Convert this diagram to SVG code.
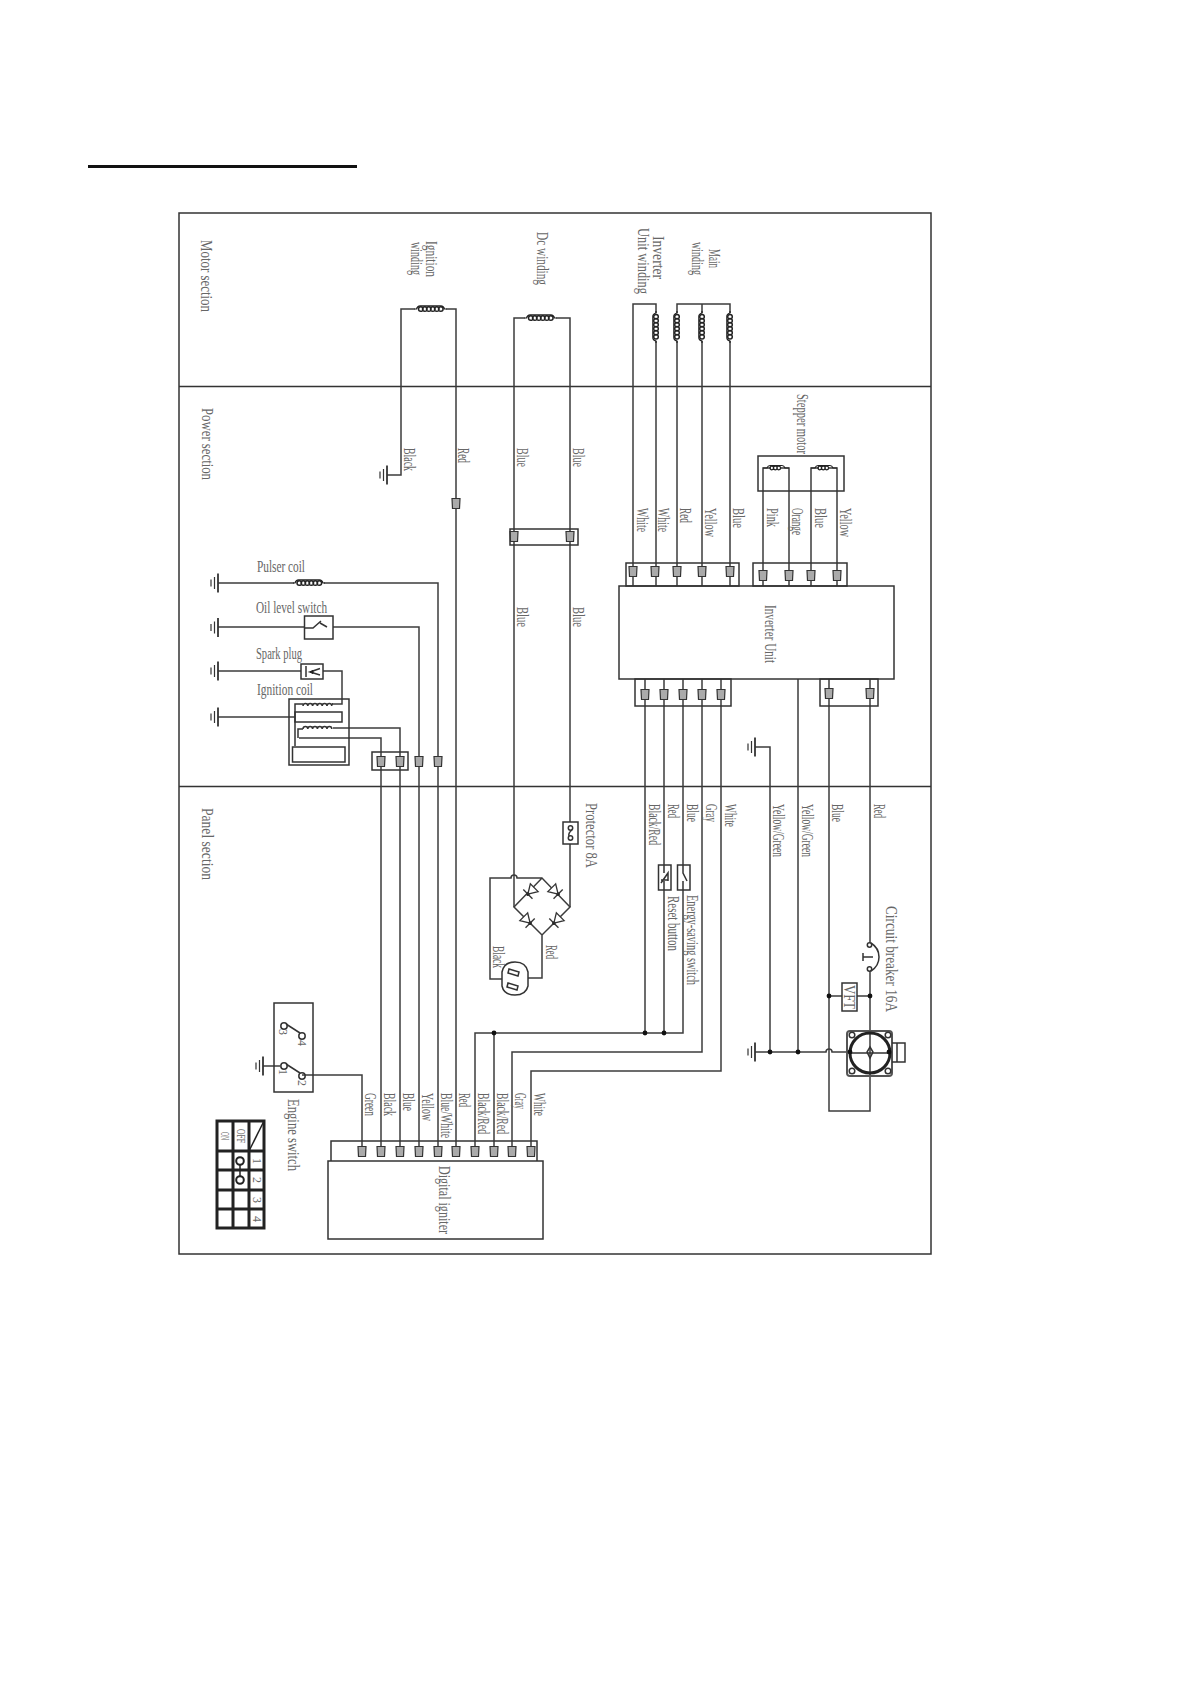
<svg xmlns="http://www.w3.org/2000/svg" width="1191" height="1684" viewBox="0 0 1191 1684">
<style>
.t{font-family:"Liberation Serif","Times New Roman",serif;font-size:16px;fill:#666}
.s{font-family:"Liberation Serif","Times New Roman",serif;font-size:12px;fill:#666}
.w{fill:none;stroke:#3c3c3c;stroke-width:1.5}
.f{fill:none;stroke:#333;stroke-width:1.5}
.b{fill:#fff;stroke:#333;stroke-width:1.5}
.k{fill:none;stroke:#222;stroke-width:3}
.d{fill:#111;stroke:none}
</style>
<defs>
<g id="pin"><path d="M-4 -5.500H4L3.500 4.500H-3.500Z" fill="#aaa" stroke="#333" stroke-width="1.200"/></g>
<g id="gnd" fill="none" stroke="#333"><path d="M0 -9.500V9.500" stroke-width="1.800"/><path d="M-3.500 -6V6M-7 -3.500V3.500" stroke-width="1.200"/></g>
<g id="coil" fill="none" stroke="#222"><path d="M-16 0H-14Q-13 -3.500 -10 -3.200H10Q13 -3.500 14 0H16" stroke-width="1.200"/><path d="M-12 0a2.300 2.300 0 1 0 4.600 0a2.300 2.300 0 1 0 -4.600 0M-8 0a2.300 2.300 0 1 0 4.600 0a2.300 2.300 0 1 0 -4.600 0M-4 0a2.300 2.300 0 1 0 4.600 0a2.300 2.300 0 1 0 -4.600 0M0 0a2.300 2.300 0 1 0 4.600 0a2.300 2.300 0 1 0 -4.600 0M4 0a2.300 2.300 0 1 0 4.600 0a2.300 2.300 0 1 0 -4.600 0M8 0a2.300 2.300 0 1 0 4.600 0a2.300 2.300 0 1 0 -4.600 0" stroke-width="1.500"/></g>
<g id="coilS" fill="none" stroke="#222"><path d="M-13 0H-9Q-8 -2.500 -6 -2.500H6Q8 -2.500 9 0H13" stroke-width="1.200"/><path d="M-6 0a1.800 1.800 0 1 0 3.600 0a1.800 1.800 0 1 0 -3.600 0M-2.500 0a1.800 1.800 0 1 0 3.600 0a1.800 1.800 0 1 0 -3.600 0M1 0a1.800 1.800 0 1 0 3.600 0a1.800 1.800 0 1 0 -3.600 0" stroke-width="1.300"/></g>
<g id="diode" fill="#fff" stroke="#333" stroke-width="1.300"><path d="M-6 -5.500V5.500L3 0Z"/><path d="M3 -6.500V6.500"/><circle cx="3" cy="0" r="1.200" fill="#111"/></g>
</defs>
<rect width="1191" height="1684" fill="#fff"/>
<path d="M88 166.500H357" stroke="#111" stroke-width="3" fill="none"/>

<g id="frame">
<rect class="f" x="179" y="213" width="752" height="1041"/>
<path class="f" d="M179 386.500H931M179 786.500H931"/>
<text class="t" transform="translate(201 240) rotate(90)" textLength="72" lengthAdjust="spacingAndGlyphs">Motor section</text>
<text class="t" transform="translate(202 408) rotate(90)" textLength="72" lengthAdjust="spacingAndGlyphs">Power section</text>
<text class="t" transform="translate(202 808) rotate(90)" textLength="72" lengthAdjust="spacingAndGlyphs">Panel section</text>
</g>

<g id="connectors">
<path class="w" d="M387 475H401V309H415M446 309H456V1152"/>
<path class="w" d="M514 907V318H525M556 318H570V907"/>
<path class="w" d="M633 586V304H656V313M656 341V586"/>
<path class="w" d="M677 313V304H730V313M702 304V313M677 341V586M702 341V586M730 341V586"/>
<path class="w" d="M771 468H763V586M781 468H789V586M819 468H811V586M829 468H837V586"/>
<path class="w" d="M645 679V1033M664 679V1033M683 679V1033H475V1152M494 1033V1152M702 679V1052H512V1152M721 679V1071H531V1152"/>
<path class="w" d="M302 1075H362V1152"/>
<path class="w" d="M755 747H770V1052M798 679V1052M755 1052H826a3 3 0 0 1 6 0H850"/>
<path class="w" d="M829 679V1111H870V969M870 679V945M829 996H870"/>
<path class="w" d="M299 738H381V1152M333 728H400V1152M333 627H419V1152M324 583H438V1152"/>
<path class="w" d="M218 583H294M218 627H304M218 671H301M323 671H342V704H332M218 717H295"/>
<path class="w" d="M514 907L542 878L570 907L542 935ZM542 878H517a3 3 0 0 0 -6 0H490V979H502M542 935V978H528"/>
<path class="w" d="M263 1066H280"/>
<circle class="d" cx="645" cy="1033" r="2.400"/><circle class="d" cx="664" cy="1033" r="2.400"/><circle class="d" cx="494" cy="1033" r="2.400"/>
<circle class="d" cx="770" cy="1052" r="2.400"/><circle class="d" cx="798" cy="1052" r="2.400"/><circle class="d" cx="829" cy="996" r="2.400"/><circle class="d" cx="870" cy="996" r="2.400"/>
<use href="#pin" x="456" y="504"/>
<use href="#pin" x="381" y="762"/><use href="#pin" x="400" y="762"/><use href="#pin" x="419" y="762"/><use href="#pin" x="438" y="762"/>
<use href="#pin" x="514" y="537"/><use href="#pin" x="570" y="537"/>
<use href="#pin" x="633" y="572"/><use href="#pin" x="655" y="572"/><use href="#pin" x="677" y="572"/><use href="#pin" x="702" y="572"/><use href="#pin" x="730" y="572"/>
<use href="#pin" x="763" y="576"/><use href="#pin" x="789" y="576"/><use href="#pin" x="811" y="576"/><use href="#pin" x="837" y="576"/>
<use href="#pin" x="645" y="695"/><use href="#pin" x="664" y="695"/><use href="#pin" x="683" y="695"/><use href="#pin" x="702" y="695"/><use href="#pin" x="721" y="695"/>
<use href="#pin" x="829" y="694"/><use href="#pin" x="870" y="694"/>
<use href="#pin" x="362" y="1152"/><use href="#pin" x="381" y="1152"/><use href="#pin" x="400" y="1152"/><use href="#pin" x="419" y="1152"/><use href="#pin" x="438" y="1152"/><use href="#pin" x="456" y="1152"/><use href="#pin" x="475" y="1152"/><use href="#pin" x="494" y="1152"/><use href="#pin" x="512" y="1152"/><use href="#pin" x="531" y="1152"/>
<rect class="f" x="372" y="752" width="36" height="18"/>
<rect class="f" x="510" y="529" width="68" height="16"/>
<rect class="f" x="626" y="563" width="113" height="23"/>
<rect class="f" x="753" y="563" width="94" height="23"/>
<rect class="f" x="635" y="679" width="96" height="27"/>
<rect class="f" x="820" y="679" width="58" height="27"/>
<path class="f" d="M331 1161V1141H537V1161"/>
</g>

<g id="wire-labels">
<text class="t" transform="translate(404 448) rotate(90)" textLength="23" lengthAdjust="spacingAndGlyphs">Black</text>
<text class="t" transform="translate(458 448) rotate(90)" textLength="15" lengthAdjust="spacingAndGlyphs">Red</text>
<text class="t" transform="translate(517 448) rotate(90)" textLength="19" lengthAdjust="spacingAndGlyphs">Blue</text>
<text class="t" transform="translate(573 448) rotate(90)" textLength="19" lengthAdjust="spacingAndGlyphs">Blue</text>
<text class="t" transform="translate(517 607) rotate(90)" textLength="20" lengthAdjust="spacingAndGlyphs">Blue</text>
<text class="t" transform="translate(573 607) rotate(90)" textLength="20" lengthAdjust="spacingAndGlyphs">Blue</text>
<text class="t" transform="translate(637 508) rotate(90)" textLength="24" lengthAdjust="spacingAndGlyphs">White</text>
<text class="t" transform="translate(658 508) rotate(90)" textLength="24" lengthAdjust="spacingAndGlyphs">White</text>
<text class="t" transform="translate(680 508) rotate(90)" textLength="15" lengthAdjust="spacingAndGlyphs">Red</text>
<text class="t" transform="translate(705 508) rotate(90)" textLength="29" lengthAdjust="spacingAndGlyphs">Yellow</text>
<text class="t" transform="translate(733 508) rotate(90)" textLength="20" lengthAdjust="spacingAndGlyphs">Blue</text>
<text class="t" transform="translate(767 508) rotate(90)" textLength="19" lengthAdjust="spacingAndGlyphs">Pink</text>
<text class="t" transform="translate(792 508) rotate(90)" textLength="27" lengthAdjust="spacingAndGlyphs">Orange</text>
<text class="t" transform="translate(815 508) rotate(90)" textLength="20" lengthAdjust="spacingAndGlyphs">Blue</text>
<text class="t" transform="translate(840 508) rotate(90)" textLength="29" lengthAdjust="spacingAndGlyphs">Yellow</text>
<text class="t" transform="translate(649 804) rotate(90)" textLength="41" lengthAdjust="spacingAndGlyphs">Black/Red</text>
<text class="t" transform="translate(668 804) rotate(90)" textLength="14" lengthAdjust="spacingAndGlyphs">Red</text>
<text class="t" transform="translate(687 804) rotate(90)" textLength="18" lengthAdjust="spacingAndGlyphs">Blue</text>
<text class="t" transform="translate(706 804) rotate(90)" textLength="18" lengthAdjust="spacingAndGlyphs">Gray</text>
<text class="t" transform="translate(725 804) rotate(90)" textLength="23" lengthAdjust="spacingAndGlyphs">White</text>
<text class="t" transform="translate(773 804) rotate(90)" textLength="53" lengthAdjust="spacingAndGlyphs">Yellow/Green</text>
<text class="t" transform="translate(802 804) rotate(90)" textLength="53" lengthAdjust="spacingAndGlyphs">Yellow/Green</text>
<text class="t" transform="translate(832 804) rotate(90)" textLength="18" lengthAdjust="spacingAndGlyphs">Blue</text>
<text class="t" transform="translate(874 804) rotate(90)" textLength="14" lengthAdjust="spacingAndGlyphs">Red</text>
<text class="t" transform="translate(493 946) rotate(90)" textLength="22" lengthAdjust="spacingAndGlyphs">Black</text>
<text class="t" transform="translate(546 945) rotate(90)" textLength="14" lengthAdjust="spacingAndGlyphs">Red</text>
<text class="t" transform="translate(365 1093) rotate(90)" textLength="23" lengthAdjust="spacingAndGlyphs">Green</text>
<text class="t" transform="translate(384 1093) rotate(90)" textLength="23" lengthAdjust="spacingAndGlyphs">Black</text>
<text class="t" transform="translate(403 1093) rotate(90)" textLength="18" lengthAdjust="spacingAndGlyphs">Blue</text>
<text class="t" transform="translate(422 1093) rotate(90)" textLength="28" lengthAdjust="spacingAndGlyphs">Yellow</text>
<text class="t" transform="translate(441 1093) rotate(90)" textLength="45" lengthAdjust="spacingAndGlyphs">Blue/White</text>
<text class="t" transform="translate(459 1093) rotate(90)" textLength="14" lengthAdjust="spacingAndGlyphs">Red</text>
<text class="t" transform="translate(478 1093) rotate(90)" textLength="41" lengthAdjust="spacingAndGlyphs">Black/Red</text>
<text class="t" transform="translate(497 1093) rotate(90)" textLength="41" lengthAdjust="spacingAndGlyphs">Black/Red</text>
<text class="t" transform="translate(515 1093) rotate(90)" textLength="16" lengthAdjust="spacingAndGlyphs">Gray</text>
<text class="t" transform="translate(534 1093) rotate(90)" textLength="23" lengthAdjust="spacingAndGlyphs">White</text>
</g>

<g id="ignition-winding">
<use href="#coil" x="430.500" y="309"/>
<text class="t" transform="translate(426 241) rotate(90)" textLength="36" lengthAdjust="spacingAndGlyphs">Ignition</text>
<text class="t" transform="translate(411 242) rotate(90)" textLength="33" lengthAdjust="spacingAndGlyphs">winding</text>
<use href="#gnd" x="387" y="475"/>
</g>
<g id="dc-winding">
<use href="#coil" x="540.500" y="318"/>
<text class="t" transform="translate(537 232) rotate(90)" textLength="53" lengthAdjust="spacingAndGlyphs">Dc winding</text>
</g>
<g id="inverter-winding">
<use href="#coil" transform="translate(656 327) rotate(-90)"/>
<text class="t" transform="translate(653 236) rotate(90)" textLength="43" lengthAdjust="spacingAndGlyphs">Inverter</text>
<text class="t" transform="translate(638 228) rotate(90)" textLength="66" lengthAdjust="spacingAndGlyphs">Unit winding</text>
</g>
<g id="main-winding">
<use href="#coil" transform="translate(677 327) rotate(-90)"/>
<use href="#coil" transform="translate(702 327) rotate(-90)"/>
<use href="#coil" transform="translate(730 327) rotate(-90)"/>
<text class="t" transform="translate(709 249) rotate(90)" textLength="19" lengthAdjust="spacingAndGlyphs">Main</text>
<text class="t" transform="translate(692 242) rotate(90)" textLength="33" lengthAdjust="spacingAndGlyphs">winding</text>
</g>
<g id="stepper-motor">
<rect class="f" x="758" y="456" width="86" height="35"/>
<use href="#coilS" x="776" y="468"/>
<use href="#coilS" x="824" y="468"/>
<text class="t" transform="translate(797 394) rotate(90)" textLength="60" lengthAdjust="spacingAndGlyphs">Stepper motor</text>
</g>
<g id="inverter-unit">
<rect class="f" x="619" y="586" width="275" height="93"/>
<text class="t" transform="translate(765 605) rotate(90)" textLength="58" lengthAdjust="spacingAndGlyphs">Inverter Unit</text>
</g>
<g id="pulser-coil">
<use href="#gnd" x="218" y="583"/>
<use href="#coil" x="309" y="583"/>
<text class="t" x="257" y="572" textLength="48" lengthAdjust="spacingAndGlyphs">Pulser coil</text>
</g>
<g id="oil-level-switch">
<use href="#gnd" x="218" y="627.500"/>
<rect class="f" x="304.500" y="616" width="28.500" height="23"/>
<path class="f" d="M304 628H313L321 621M320 623L327 627"/>
<text class="t" x="256" y="613" textLength="71" lengthAdjust="spacingAndGlyphs">Oil level switch</text>
</g>
<g id="spark-plug">
<use href="#gnd" x="218" y="671"/>
<rect class="f" x="301" y="664" width="22" height="15"/>
<path class="f" d="M306 666V677M320 668.500L310 672L320 675"/>
<path d="M313 670.500L310 672L313 673.500Z" fill="#222" stroke="#222"/>
<text class="t" x="256" y="659" textLength="46" lengthAdjust="spacingAndGlyphs">Spark plug</text>
</g>
<g id="ignition-coil">
<use href="#gnd" x="218" y="717"/>
<rect class="f" x="289" y="699" width="60" height="66"/>
<path class="f" d="M295 746V704H303M332 704H333"/>
<path class="f" d="M303 706a2.400 2.400 0 0 1 4.800 0a2.400 2.400 0 0 1 4.800 0a2.400 2.400 0 0 1 4.800 0a2.400 2.400 0 0 1 4.800 0a2.400 2.400 0 0 1 4.800 0a2.400 2.400 0 0 1 4.800 0"/>
<rect class="f" x="295" y="712" width="47" height="10"/>
<path class="f" d="M298 738V729H303M303 729a2.400 2.400 0 0 1 4.800 0a2.400 2.400 0 0 1 4.800 0a2.400 2.400 0 0 1 4.800 0a2.400 2.400 0 0 1 4.800 0a2.400 2.400 0 0 1 4.800 0a2.400 2.400 0 0 1 4.800 0"/>
<rect class="f" x="292.500" y="747" width="52.500" height="15"/>
<text class="t" x="257" y="695" textLength="56" lengthAdjust="spacingAndGlyphs">Ignition coil</text>
</g>
<g id="protector">
<rect class="b" x="563" y="822" width="15" height="22"/>
<circle class="f" cx="570.500" cy="828" r="2.200"/><circle class="f" cx="570.500" cy="838" r="2.200"/>
<path class="f" d="M572 830Q568 833 569 836"/>
<text class="t" transform="translate(586 803) rotate(90)" textLength="65" lengthAdjust="spacingAndGlyphs">Protector 8A</text>
</g>
<g id="bridge">
<use href="#diode" transform="translate(530 892) rotate(135)"/>
<use href="#diode" transform="translate(556 892) rotate(45)"/>
<use href="#diode" transform="translate(528 921) rotate(45)"/>
<use href="#diode" transform="translate(556 921) rotate(135)"/>
</g>
<g id="plug">
<path class="b" d="M502 972Q504 962 515 962Q526 962 528 972V986Q526 995 515 995Q504 995 502 986Z"/>
<path class="f" d="M509 969L519 972L518 976L508 973ZM508 983L518 986L517 990L507 987Z" stroke-width="1.800"/>
</g>
<g id="reset-button">
<rect class="b" x="658.500" y="865" width="12.500" height="25"/>
<path class="f" d="M664 865V873M664 881V890M661 883L668 873V881M661 880H668"/>
<text class="t" transform="translate(668 896) rotate(90)" textLength="55" lengthAdjust="spacingAndGlyphs">Reset button</text>
</g>
<g id="energy-saving-switch">
<rect class="b" x="677.500" y="865" width="12.500" height="25"/>
<path class="f" d="M683 865V873L687 881M683 881V890"/>
<text class="t" transform="translate(687 895) rotate(90)" textLength="90" lengthAdjust="spacingAndGlyphs">Energy-saving switch</text>
</g>
<g id="engine-switch">
<rect class="f" x="274" y="1003" width="39" height="89"/>
<circle class="f" cx="284" cy="1026" r="3.200"/><circle class="f" cx="302" cy="1036" r="3.200"/><circle class="f" cx="284" cy="1066" r="3.200"/><circle class="f" cx="302" cy="1076" r="3.200"/>
<path class="f" d="M286 1024L300 1033M286 1064L300 1073"/>
<use href="#gnd" x="263" y="1066"/>
<text class="s" transform="translate(279 1029) rotate(90)">3</text>
<text class="s" transform="translate(298 1040) rotate(90)">4</text>
<text class="s" transform="translate(279 1069) rotate(90)">1</text>
<text class="s" transform="translate(298 1080) rotate(90)">2</text>
<text class="t" transform="translate(288 1099) rotate(90)" textLength="72" lengthAdjust="spacingAndGlyphs">Engine switch</text>
</g>
<g id="switch-table">
<rect class="k" x="217" y="1121" width="47" height="107"/>
<path class="k" d="M233 1121V1228M249 1121V1228M217 1151H264M217 1170H264M217 1190H264M217 1209H264" stroke-width="2.500"/>
<path d="M264 1121L249 1151" stroke="#222" stroke-width="1.500"/>
<circle cx="240" cy="1161" r="3.800" fill="none" stroke="#222" stroke-width="2"/>
<circle cx="240" cy="1180" r="3.800" fill="none" stroke="#222" stroke-width="2"/>
<path d="M240 1165V1176" stroke="#222" stroke-width="1.500"/>
<text class="s" transform="translate(221 1132) rotate(90)" textLength="8" lengthAdjust="spacingAndGlyphs">ON</text>
<text class="s" transform="translate(237 1129) rotate(90)" textLength="14" lengthAdjust="spacingAndGlyphs">OFF</text>
<text class="s" transform="translate(253 1158) rotate(90)">1</text>
<text class="s" transform="translate(253 1177) rotate(90)">2</text>
<text class="s" transform="translate(253 1197) rotate(90)">3</text>
<text class="s" transform="translate(253 1216) rotate(90)">4</text>
</g>
<g id="digital-igniter">
<rect class="f" x="328" y="1161" width="215" height="78"/>
<text class="t" transform="translate(439 1166) rotate(90)" textLength="68" lengthAdjust="spacingAndGlyphs">Digital igniter</text>
</g>
<g id="circuit-breaker">
<use href="#gnd" x="755" y="747"/>
<use href="#gnd" x="755" y="1052"/>
<circle class="b" cx="869.500" cy="945" r="2.200"/><circle class="b" cx="869.500" cy="969" r="2.200"/>
<path class="f" d="M871 943Q879 948 879 957Q879 966 871 971M863 957H873M863 953V961"/>
<text class="t" transform="translate(886 906) rotate(90)" textLength="106" lengthAdjust="spacingAndGlyphs">Circuit breaker 16A</text>
</g>
<g id="vft">
<rect class="b" x="842" y="983" width="15" height="28"/>
<text class="t" transform="translate(844 985) rotate(90)" textLength="24" lengthAdjust="spacingAndGlyphs">VFT</text>
</g>
<g id="outlet">
<rect x="847" y="1031" width="45" height="45" rx="3" fill="none" stroke="#555" stroke-width="2"/>
<circle cx="870" cy="1053" r="20" fill="none" stroke="#222" stroke-width="3"/>
<circle class="f" cx="852" cy="1035" r="2.800"/><circle class="f" cx="888" cy="1035" r="2.800"/><circle class="f" cx="852" cy="1071" r="2.800"/><circle class="f" cx="888" cy="1071" r="2.800"/>
<path class="f" d="M892 1043H905V1062H892M897 1043V1062M850 1053H890"/>
<path class="f" d="M870 1047L873 1052L870 1058L867 1052Z"/>
<circle class="d" cx="850" cy="1052" r="2.400"/><circle class="d" cx="889" cy="1052" r="2.400"/>
</g>
</svg>
